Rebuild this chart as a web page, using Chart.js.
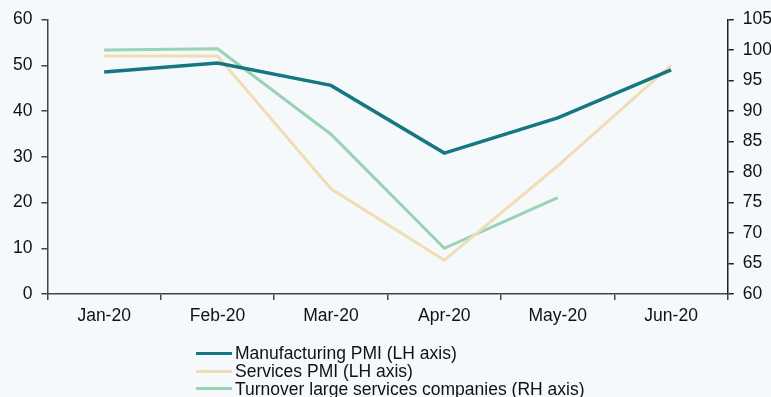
<!DOCTYPE html>
<html>
<head>
<meta charset="utf-8">
<script src="https://cdn.jsdelivr.net/npm/chart.js@4/dist/chart.umd.min.js"></script>
<style>
  body { margin: 0; background: #f5f9fb; }
  #wrap { position: relative; width: 771px; height: 397px; background: #f5f9fb; overflow: hidden; }
  #legend { position: absolute; left: 196px; top: 345px; font: 17.5px "Liberation Sans", Arial, sans-serif; color: #111; }
  #legend div { height: 17.8px; line-height: 17.8px; white-space: nowrap; }
  #legend span.swatch { display: inline-block; width: 36px; height: 3px; vertical-align: middle; margin-right: 3px; position: relative; top: -1px; }
</style>
</head>
<body>
<div id="wrap">
  <canvas id="Chart" width="771" height="397"></canvas>
  <div id="legend"></div>
</div>
<script>
const ctx = document.getElementById('Chart');

var months = ['Jan-20', 'Feb-20', 'Mar-20', 'Apr-20', 'May-20', 'Jun-20'];
var manufacturing = [48.5, 50.5, 45.6, 30.8, 38.5, 49.0];
var services = [52.0, 52.0, 23.0, 7.4, 28.0, 50.0];
var turnover = [100.0, 100.2, 86.2, 67.5, 75.8, null];

var leftTicks = [0, 10, 20, 30, 40, 50, 60];
var rightTicks = [60, 65, 70, 75, 80, 85, 90, 95, 100, 105];

var font = { family: '"Liberation Sans", Arial, sans-serif', size: 17.5 };

var myChart = new Chart(ctx, {
    type: 'line',
    data: {
        labels: months,
        datasets: [{
            label: 'Manufacturing PMI (LH axis)',
            data: manufacturing,
            borderColor: '#15777f',
            borderWidth: 3.5,
            yAxisID: 'y'
        }, {
            label: 'Services PMI (LH axis)',
            data: services,
            borderColor: '#f0deb3',
            borderWidth: 3,
            yAxisID: 'y'
        }, {
            label: 'Turnover large services companies (RH axis)',
            data: turnover,
            borderColor: '#98d3b4',
            borderWidth: 3,
            yAxisID: 'y1'
        }]
    },
    options: {
        responsive: false,
        animation: false,
        layout: { padding: { left: 4, right: -10, top: 15, bottom: 64 } },
        elements: { point: { radius: 0 }, line: { tension: 0 } },
        plugins: {
            legend: { display: false },
            tooltip: { enabled: false }
        },
        scales: {
            x: {
                offset: true,
                grid: { offset: true, drawOnChartArea: false, tickLength: 6, color: '#444', lineWidth: 1.5 },
                border: { color: '#444', width: 1.5 },
                ticks: { color: '#111', font: font, padding: 6, maxRotation: 0 }
            },
            y: {
                position: 'left',
                min: 0, max: 60,
                afterBuildTicks: function(axis) { axis.ticks = leftTicks.map(function(v) { return { value: v }; }); },
                grid: { drawOnChartArea: false, tickLength: 6, color: '#444', lineWidth: 1.5 },
                border: { color: '#444', width: 1.5 },
                ticks: { color: '#111', font: font, padding: 9 }
            },
            y1: {
                position: 'right',
                min: 60, max: 105,
                afterBuildTicks: function(axis) { axis.ticks = rightTicks.map(function(v) { return { value: v }; }); },
                grid: { drawOnChartArea: false, tickLength: 6, color: '#222', lineWidth: 1.5 },
                border: { color: '#222', width: 1.5 },
                ticks: { color: '#111', font: font, padding: 9 }
            }
        }
    }
});

// legend stacked one item per row under the axis
var legend = document.getElementById('legend');
myChart.data.datasets.forEach(function(ds) {
    var row = document.createElement('div');
    var sw = document.createElement('span');
    sw.className = 'swatch';
    sw.style.background = ds.borderColor;
    row.appendChild(sw);
    row.appendChild(document.createTextNode(ds.label));
    legend.appendChild(row);
});
</script>
</body>
</html>
